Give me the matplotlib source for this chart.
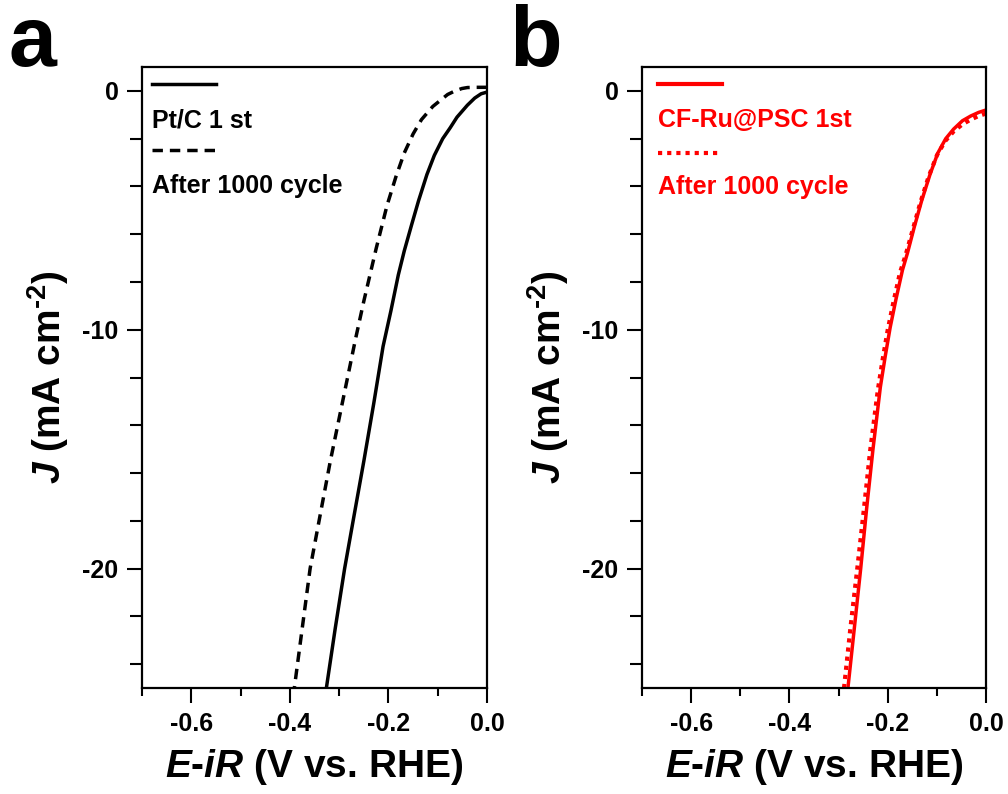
import numpy as np
import matplotlib.pyplot as plt
from matplotlib.ticker import MultipleLocator, FormatStrFormatter

plt.rcParams['font.family'] = 'Liberation Sans'
plt.rcParams['font.weight'] = 'bold'
plt.rcParams['axes.unicode_minus'] = False
plt.rcParams['mathtext.fontset'] = 'custom'
plt.rcParams['mathtext.rm'] = 'Liberation Sans:bold'
plt.rcParams['mathtext.bf'] = 'Liberation Sans:bold'
plt.rcParams['mathtext.it'] = 'Liberation Sans:bold:italic'

# Pt/C polarization curves (potential in V vs. RHE, current density in mA cm-2)
ptc_first_v = [0.0, -0.012, -0.025, -0.04, -0.061, -0.075, -0.09, -0.107,
               -0.122, -0.139, -0.153, -0.168, -0.180, -0.195, -0.211,
               -0.230, -0.250, -0.270, -0.289, -0.308, -0.326]
ptc_first_j = [-0.05, -0.12, -0.3, -0.6, -1.1, -1.55, -2.0, -2.7,
               -3.5, -4.6, -5.6, -6.7, -7.7, -9.2, -10.7,
               -13.1, -15.5, -17.8, -20.0, -22.5, -25.0]
ptc_cycled_v = [0.0, -0.025, -0.040, -0.051, -0.065, -0.080, -0.092, -0.110,
                -0.133, -0.150, -0.168, -0.185, -0.203, -0.225, -0.250,
                -0.267, -0.283, -0.300, -0.318, -0.339, -0.359, -0.375, -0.391]
ptc_cycled_j = [0.15, 0.15, 0.14, 0.1, 0.0, -0.15, -0.35, -0.65,
                -1.2, -1.8, -2.6, -3.6, -4.8, -6.6, -8.8,
                -10.4, -12.0, -13.7, -15.5, -17.8, -20.0, -22.5, -25.0]

# CF-Ru@PSC polarization curves
ru_first_v = [0.0, -0.015, -0.031, -0.048, -0.066, -0.082, -0.098, -0.114,
              -0.131, -0.146, -0.160, -0.170, -0.183, -0.195, -0.205,
              -0.215, -0.230, -0.243, -0.255, -0.268, -0.281]
ru_first_j = [-0.8, -0.9, -1.05, -1.25, -1.6, -2.0, -2.6, -3.5,
              -4.6, -5.7, -6.8, -7.5, -8.7, -9.9, -11.1,
              -12.4, -15.0, -17.5, -20.0, -22.5, -25.0]
ru_cycled_v = [0.0, -0.015, -0.031, -0.048, -0.066, -0.083, -0.100, -0.117,
               -0.134, -0.149, -0.164, -0.175, -0.188, -0.200, -0.210,
               -0.220, -0.236, -0.249, -0.262, -0.276, -0.289]
ru_cycled_j = [-0.95, -1.05, -1.2, -1.4, -1.7, -2.1, -2.7, -3.6,
               -4.7, -5.8, -6.9, -7.6, -8.8, -10.0, -11.2,
               -12.5, -15.1, -17.6, -20.0, -22.5, -25.0]

fig = plt.figure(figsize=(10.08, 7.94), dpi=100)
ax_a = fig.add_axes([0.1409, 0.1335, 0.3423, 0.7821])
ax_b = fig.add_axes([0.6369, 0.1335, 0.3413, 0.7821])


def style_axes(ax):
    ax.set_xlim(-0.7, 0.0)
    ax.set_ylim(-25, 1)
    ax.xaxis.set_major_locator(MultipleLocator(0.2))
    ax.xaxis.set_minor_locator(MultipleLocator(0.1))
    ax.xaxis.set_major_formatter(FormatStrFormatter('%.1f'))
    ax.yaxis.set_major_locator(MultipleLocator(10))
    ax.yaxis.set_minor_locator(MultipleLocator(2))
    for sp in ax.spines.values():
        sp.set_linewidth(1.6)
    ax.tick_params(which='both', direction='out', width=1.5, top=False, right=False)
    ax.tick_params(which='major', length=11, labelsize=18, pad=6)
    ax.tick_params(which='minor', length=6)
    ax.tick_params(axis='y', which='minor', length=9)
    for lbl in ax.get_xticklabels() + ax.get_yticklabels():
        lbl.set_fontweight('bold')
    ax.set_xlabel('$E$-$iR$ (V vs. RHE)', fontsize=28, fontweight='bold', labelpad=8)
    ax.set_ylabel(r'$J$ (mA cm$^{\text{-2}}$)', fontsize=28, fontweight='bold', labelpad=8)


def legend_entry(ax, y_line, y_text, x0, label, color, **line_kw):
    ax.plot([x0, x0 + 0.185], [y_line, y_line], transform=ax.transAxes,
            color=color, clip_on=False, **line_kw)
    ax.text(x0, y_text, label, transform=ax.transAxes, color=color,
            fontsize=18, fontweight='bold', va='baseline', ha='left')


# panel a: Pt/C
ax_a.plot(ptc_first_v, ptc_first_j, color='black', lw=2.5)
ax_a.plot(ptc_cycled_v, ptc_cycled_j, color='black', lw=2.5, linestyle=(0, (3, 2)))
style_axes(ax_a)
legend_entry(ax_a, 0.973, 0.903, 0.029, 'Pt/C 1 st', 'black', lw=2.5)
legend_entry(ax_a, 0.866, 0.797, 0.029, 'After 1000 cycle', 'black', lw=2.5,
             linestyle=(0, (3, 2)))

# panel b: CF-Ru@PSC
red = '#ff0000'
ax_b.plot(ru_cycled_v, ru_cycled_j, color=red, lw=3, linestyle=(0, (1, 1.2)))
ax_b.plot(ru_first_v, ru_first_j, color=red, lw=2.5)
style_axes(ax_b)
legend_entry(ax_b, 0.973, 0.903, 0.047, 'CF-Ru@PSC 1st', red, lw=3)
legend_entry(ax_b, 0.862, 0.795, 0.047, 'After 1000 cycle', red, lw=3,
             linestyle=(0, (1, 1.2)))

fig.text(0.008, 1 - 66 / 794, 'a', fontsize=62, fontweight='heavy', va='baseline')
fig.text(0.505, 1 - 66 / 794, 'b', fontsize=62, fontweight='heavy', va='baseline')

fig.savefig('out.png', dpi=100)
